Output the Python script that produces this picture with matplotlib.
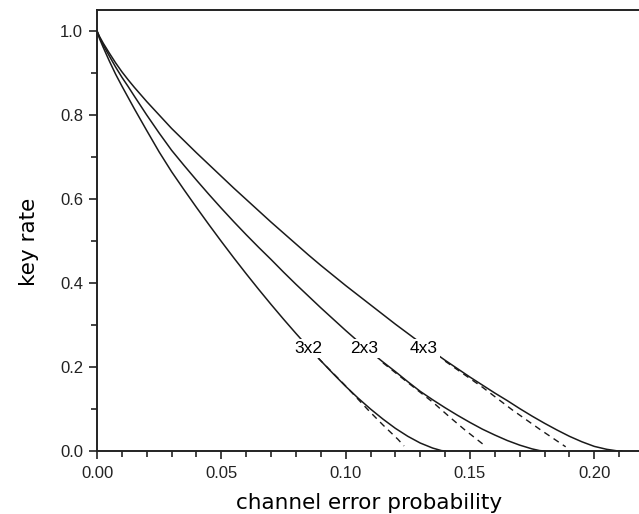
import numpy as np
import matplotlib
matplotlib.use("Agg")
import matplotlib.pyplot as plt
from matplotlib.ticker import MultipleLocator, FormatStrFormatter

# solid curves
x_3x2 = [0.0, 0.001, 0.0025, 0.005, 0.0075, 0.01, 0.0125, 0.015, 0.02, 0.025,
         0.03, 0.035, 0.04, 0.045, 0.05, 0.055, 0.06, 0.065, 0.07, 0.075,
         0.08, 0.085, 0.09, 0.095, 0.10, 0.105, 0.11, 0.115, 0.12, 0.125,
         0.13, 0.135, 0.1385, 0.140]
y_3x2 = [1.0, 0.982, 0.961, 0.928, 0.897, 0.869, 0.842, 0.815, 0.763, 0.712,
         0.665, 0.622, 0.580, 0.539, 0.499, 0.460, 0.422, 0.385, 0.349, 0.314,
         0.280, 0.247, 0.215, 0.184, 0.154, 0.126, 0.100, 0.076, 0.054, 0.035,
         0.019, 0.007, 0.001, 0.0]

x_2x3 = [0.0, 0.001, 0.0025, 0.005, 0.0075, 0.01, 0.0125, 0.015, 0.02, 0.025,
         0.03, 0.035, 0.04, 0.045, 0.05, 0.055, 0.06, 0.065, 0.07, 0.075,
         0.08, 0.085, 0.09, 0.095, 0.10, 0.105, 0.11, 0.115, 0.12, 0.125,
         0.13, 0.135, 0.14, 0.145, 0.15, 0.155, 0.16, 0.165, 0.17, 0.175,
         0.178, 0.180]
y_2x3 = [1.0, 0.985, 0.967, 0.940, 0.914, 0.890, 0.868, 0.845, 0.800, 0.757,
         0.716, 0.680, 0.645, 0.611, 0.578, 0.546, 0.515, 0.485, 0.456, 0.426,
         0.397, 0.369, 0.341, 0.314, 0.287, 0.261, 0.236, 0.212, 0.189, 0.165,
         0.142, 0.122, 0.103, 0.085, 0.068, 0.052, 0.038, 0.025, 0.014, 0.005,
         0.001, 0.0]

x_4x3 = [0.0, 0.001, 0.0025, 0.005, 0.0075, 0.01, 0.0125, 0.015, 0.02, 0.025,
         0.03, 0.035, 0.04, 0.045, 0.05, 0.055, 0.06, 0.065, 0.07, 0.075,
         0.08, 0.085, 0.09, 0.095, 0.10, 0.105, 0.11, 0.115, 0.12, 0.125,
         0.13, 0.135, 0.14, 0.145, 0.15, 0.155, 0.16, 0.165, 0.17, 0.175,
         0.18, 0.185, 0.19, 0.195, 0.20, 0.205, 0.209, 0.211]
y_4x3 = [1.0, 0.987, 0.971, 0.947, 0.924, 0.903, 0.884, 0.866, 0.832, 0.800,
         0.768, 0.739, 0.710, 0.682, 0.654, 0.626, 0.599, 0.572, 0.545, 0.519,
         0.493, 0.467, 0.442, 0.418, 0.394, 0.371, 0.348, 0.325, 0.302, 0.280,
         0.258, 0.237, 0.216, 0.196, 0.176, 0.157, 0.138, 0.120, 0.101, 0.083,
         0.066, 0.050, 0.035, 0.022, 0.011, 0.004, 0.0005, 0.0]

# dashed curves (approximation)
xd_3x2 = [0.089, 0.0995, 0.109, 0.115, 0.121, 0.1235]
yd_3x2 = [0.221, 0.158, 0.098, 0.062, 0.028, 0.012]

xd_2x3 = [0.115, 0.125, 0.1353, 0.142, 0.148, 0.1555]
yd_2x3 = [0.210, 0.163, 0.115, 0.080, 0.050, 0.015]

xd_4x3 = [0.140, 0.155, 0.167, 0.178, 0.1885]
yd_4x3 = [0.214, 0.152, 0.098, 0.052, 0.010]

labels = ["3x2", "2x3", "4x3"]
label_x = [0.0849, 0.1074, 0.1315]
label_y = [0.245, 0.245, 0.245]

LINE_COLOR = "#1a1a1a"


def main() -> None:
    fig = plt.figure(figsize=(6.39, 5.14), dpi=100)
    ax = fig.add_axes([97 / 639, 63 / 514, 547 / 639, 441 / 514])

    for xs, ys in [(x_3x2, y_3x2), (x_2x3, y_2x3), (x_4x3, y_4x3)]:
        ax.plot(xs, ys, color=LINE_COLOR, lw=1.1, zorder=2)
    for xs, ys in [(xd_3x2, yd_3x2), (xd_2x3, yd_2x3), (xd_4x3, yd_4x3)]:
        ax.plot(xs, ys, color=LINE_COLOR, lw=1.0, dashes=(4.5, 3.5), zorder=2)

    for lab, lx, ly in zip(labels, label_x, label_y):
        ax.text(lx, ly, lab, ha="center", va="center", fontsize=12.5,
                family="Liberation Sans", zorder=3,
                bbox=dict(facecolor="white", edgecolor="none", pad=1.5))

    ax.set_xlim(0, 0.22)
    ax.set_ylim(0, 1.05)
    ax.xaxis.set_major_locator(MultipleLocator(0.05))
    ax.xaxis.set_minor_locator(MultipleLocator(0.01))
    ax.yaxis.set_major_locator(MultipleLocator(0.2))
    ax.yaxis.set_minor_locator(MultipleLocator(0.1))
    ax.xaxis.set_major_formatter(FormatStrFormatter("%.2f"))
    ax.yaxis.set_major_formatter(FormatStrFormatter("%.1f"))

    ax.tick_params(which="both", direction="out", width=1.2, colors="#222222",
                   top=False, right=False)
    ax.tick_params(which="major", length=6)
    ax.tick_params(which="minor", length=4)
    for lbl in ax.get_xticklabels() + ax.get_yticklabels():
        lbl.set_family("Liberation Sans")
        lbl.set_fontsize(12)
    ax.tick_params(axis="x", pad=5)
    ax.tick_params(axis="y", pad=4)

    for side in ["left", "bottom", "top", "right"]:
        ax.spines[side].set_linewidth(1.4)
        ax.spines[side].set_color("#222222")

    ax.set_xlabel("channel error probability", fontsize=15.5, family="DejaVu Sans")
    ax.set_ylabel("key rate", fontsize=15.5, family="DejaVu Sans")
    ax.xaxis.set_label_coords(0.497, -0.095)
    ax.yaxis.set_label_coords(-0.106, 0.474)

    fig.savefig("out.png", dpi=100)
    plt.close(fig)


if __name__ == "__main__":
    main()
